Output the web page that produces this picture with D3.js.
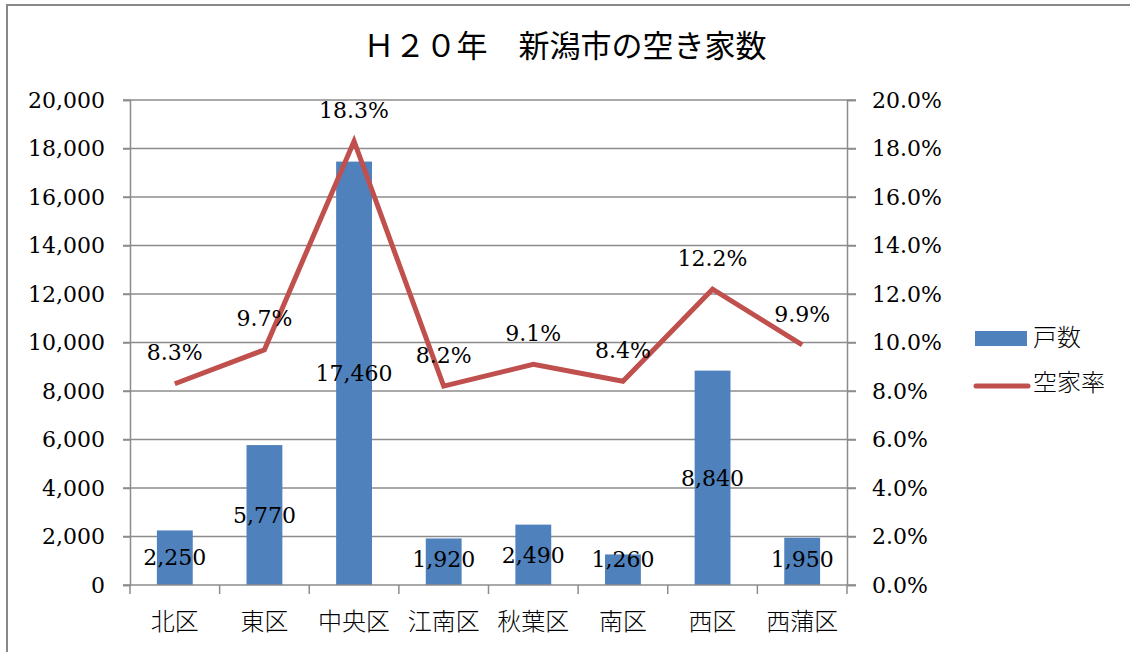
<!DOCTYPE html>
<html lang="ja">
  <head>
    <meta charset="utf-8">
    <script src="https://d3js.org/d3.v7.min.js"></script>
    <title>H20年 新潟市の空き家数</title>
    <style>
      body { margin: 0; background: #fff; }
      .num { font-family: "DejaVu Serif", serif; font-size: 22px; fill: #000; }
      .cat { font-family: "Noto Sans CJK JP", sans-serif; font-size: 24px; font-weight: 300; fill: #000; }
    </style>
  </head>
  <body>
    <script>

    // data
    var wards = ["北区", "東区", "中央区", "江南区", "秋葉区", "南区", "西区", "西蒲区"];
    var houses = [2250, 5770, 17460, 1920, 2490, 1260, 8840, 1950];
    var vacancy = [8.3, 9.7, 18.3, 8.2, 9.1, 8.4, 12.2, 9.9];
    var leftTicks = [0, 2000, 4000, 6000, 8000, 10000, 12000, 14000, 16000, 18000, 20000];
    var rightTicks = [0, 2, 4, 6, 8, 10, 12, 14, 16, 18, 20];

    var W = 1130, H = 652;
    var margin = {top: 100, left: 130, right: 283, bottom: 67};
    var width = W - margin.left - margin.right,
        height = H - margin.top - margin.bottom;

    var svg = d3.select("body").append("svg")
        .attr("width", W)
        .attr("height", H);

    // outer frame
    svg.append("rect")
        .attr("x", 7).attr("y", 5)
        .attr("width", W + 10).attr("height", H + 10)
        .attr("fill", "none")
        .attr("stroke", "#888")
        .attr("stroke-width", 2);

    svg.append("text")
        .attr("x", 565).attr("y", 57)
        .attr("text-anchor", "middle")
        .style("font-family", '"Noto Sans CJK JP", sans-serif')
        .style("font-size", "31px")
        .text("Ｈ２０年　新潟市の空き家数");

    var g = svg.append("g")
        .attr("transform", "translate(" + [margin.left, margin.top] + ")");

    var x = d3.scaleBand()
        .domain(wards)
        .range([0, width])
        .paddingInner(0.6)
        .paddingOuter(0.3);

    var xb = d3.scaleBand().domain(wards).range([0, width]);

    var y = d3.scaleLinear().domain([0, 20000]).range([height, 0]);
    var y2 = d3.scaleLinear().domain([0, 20]).range([height, 0]);

    // gridlines
    g.selectAll(".grid")
        .data(leftTicks.slice(1))
        .enter().append("line")
        .attr("x1", -7).attr("x2", width + 9)
        .attr("y1", function(d) { return y(d); })
        .attr("y2", function(d) { return y(d); })
        .attr("stroke", "#8c8c8c")
        .attr("stroke-width", 1.5);

    // left axis
    var yAxis = g.append("g")
        .call(d3.axisLeft(y).tickValues(leftTicks).tickSize(7).tickPadding(18)
          .tickFormat(d3.format(",")));
    // right axis
    var y2Axis = g.append("g")
        .attr("transform", "translate(" + width + ",0)")
        .call(d3.axisRight(y2).tickValues(rightTicks).tickSize(9).tickPadding(16)
          .tickFormat(function(d) { return d.toFixed(1) + "%"; }));

    [yAxis, y2Axis].forEach(function(a) {
      a.select(".domain").attr("stroke", "#8c8c8c").attr("stroke-width", 1.5);
      a.selectAll(".tick line").attr("stroke", "#8c8c8c").attr("stroke-width", 1.5);
      a.selectAll("text").attr("class", "num").attr("fill", "#000");
    });

    // bars
    g.selectAll(".bar")
        .data(houses)
        .enter().append("rect")
        .attr("x", function(d, i) { return x(wards[i]); })
        .attr("y", function(d) { return y(d); })
        .attr("width", x.bandwidth())
        .attr("height", function(d) { return height - y(d); })
        .attr("fill", "#4F81BD");

    // bottom axis
    var xAxis = g.append("g")
        .attr("transform", "translate(0," + height + ")");
    xAxis.append("line")
        .attr("x1", -7).attr("x2", width + 9)
        .attr("stroke", "#8c8c8c").attr("stroke-width", 1.5);
    xAxis.selectAll(".ct")
        .data(wards.concat(["end"]))
        .enter().append("line")
        .attr("x1", function(d, i) { return i * xb.bandwidth(); })
        .attr("x2", function(d, i) { return i * xb.bandwidth(); })
        .attr("y1", 0).attr("y2", 9)
        .attr("stroke", "#8c8c8c").attr("stroke-width", 1.5);
    xAxis.selectAll(".cat")
        .data(wards)
        .enter().append("text")
        .attr("class", "cat")
        .attr("x", function(d) { return xb(d) + xb.bandwidth() / 2; })
        .attr("y", 45)
        .attr("text-anchor", "middle")
        .text(function(d) { return d; });

    // line
    var line = d3.line()
        .x(function(d, i) { return xb(wards[i]) + xb.bandwidth() / 2; })
        .y(function(d) { return y2(d); });

    g.append("path")
        .datum(vacancy)
        .attr("d", line)
        .attr("fill", "none")
        .attr("stroke", "#C0504D")
        .attr("stroke-width", 5)
        .attr("stroke-linejoin", "miter");

    // bar labels (centred, but kept off the axis for short bars)
    g.selectAll(".blab")
        .data(houses)
        .enter().append("text")
        .attr("class", "num")
        .attr("x", function(d, i) { return xb(wards[i]) + xb.bandwidth() / 2; })
        .attr("y", function(d) { return Math.min((y(d) + height) / 2, height - 26); })
        .attr("dy", "0.35em")
        .attr("text-anchor", "middle")
        .text(d3.format(","));

    // line labels
    g.selectAll(".llab")
        .data(vacancy)
        .enter().append("text")
        .attr("class", "num")
        .attr("x", function(d, i) { return xb(wards[i]) + xb.bandwidth() / 2; })
        .attr("y", function(d) { return y2(d) - 31; })
        .attr("dy", "0.35em")
        .attr("text-anchor", "middle")
        .text(function(d) { return d.toFixed(1) + "%"; });

    // legend
    var leg = svg.append("g").attr("transform", "translate(975,0)");
    leg.append("rect")
        .attr("x", 0).attr("y", 331).attr("width", 52).attr("height", 15)
        .attr("fill", "#4F81BD");
    leg.append("text").attr("class", "cat")
        .attr("x", 58).attr("y", 338).attr("dy", "0.35em").text("戸数");
    leg.append("line")
        .attr("x1", 1).attr("x2", 53).attr("y1", 386).attr("y2", 386)
        .attr("stroke", "#C0504D").attr("stroke-width", 5).attr("stroke-linecap", "round");
    leg.append("text").attr("class", "cat")
        .attr("x", 58).attr("y", 383).attr("dy", "0.35em").text("空家率");

    </script>
  </body>
</html>
